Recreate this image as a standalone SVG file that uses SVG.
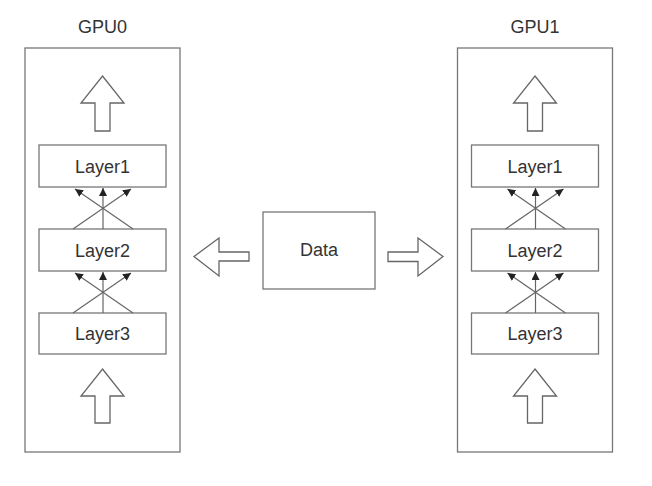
<svg xmlns="http://www.w3.org/2000/svg" width="652" height="486" viewBox="0 0 652 486">
<defs>
<style>
.box{fill:#fff;stroke:#777;stroke-width:1.3}
.blk{fill:#fff;stroke:#666;stroke-width:1.3;stroke-linejoin:miter}
.ln{stroke:#666;stroke-width:1.2;fill:none}
.t{font-family:"Liberation Sans",Arial,sans-serif;font-size:18px;fill:#333;text-anchor:middle}
</style>
<marker id="ah" markerUnits="userSpaceOnUse" markerWidth="9" markerHeight="8" refX="8" refY="4" orient="auto" viewBox="0 0 9 8">
<path d="M0,0 L8,4 L0,8 z" fill="#222"/>
</marker>
<g id="gpuTpl">
<rect class="box" x="25" y="48" width="155" height="404"/>
<polygon class="blk" points="102.5,76 124,103 110,103 110,131 95,131 95,103 81,103"/>
<polygon class="blk" points="102.5,369 124,396 110,396 110,423 95,423 95,396 81,396"/>
<rect class="box" x="39" y="145" width="127" height="42"/>
<rect class="box" x="39" y="229" width="127" height="42"/>
<rect class="box" x="39" y="313" width="127" height="41"/>
<text class="t" x="102.5" y="172.5">Layer1</text>
<text class="t" x="102.5" y="256.5">Layer2</text>
<text class="t" x="102.5" y="340">Layer3</text>
</g>
<g id="xTpl">
<line class="ln" x1="73" y1="229" x2="131" y2="189" marker-end="url(#ah)"/>
<line class="ln" x1="133" y1="229" x2="75" y2="189" marker-end="url(#ah)"/>
<line class="ln" x1="103" y1="229" x2="103" y2="188" marker-end="url(#ah)"/>
</g>
</defs>
<rect width="652" height="486" fill="#fff"/>
<g id="gpu0">
<use href="#gpuTpl"/>
<text class="t" x="102.5" y="33">GPU0</text>
</g>
<g id="gpu1" transform="translate(432.5,0)">
<use href="#gpuTpl"/>
<text class="t" x="102.5" y="33">GPU1</text>
</g>
<g id="data">
<rect class="box" x="263" y="212" width="112" height="77"/>
<text class="t" x="319" y="256">Data</text>
</g>
<g id="connectors">
<use href="#xTpl"/>
<use href="#xTpl" transform="translate(0,84)"/>
<use href="#xTpl" transform="translate(432.5,0)"/>
<use href="#xTpl" transform="translate(432.5,84)"/>
<polygon class="blk" points="194,256.5 219,238 219,252 249,252 249,261 219,261 219,276"/>
<polygon class="blk" points="443,256.5 418,238 418,252 388,252 388,261.5 418,261.5 418,276"/>
</g>
</svg>
